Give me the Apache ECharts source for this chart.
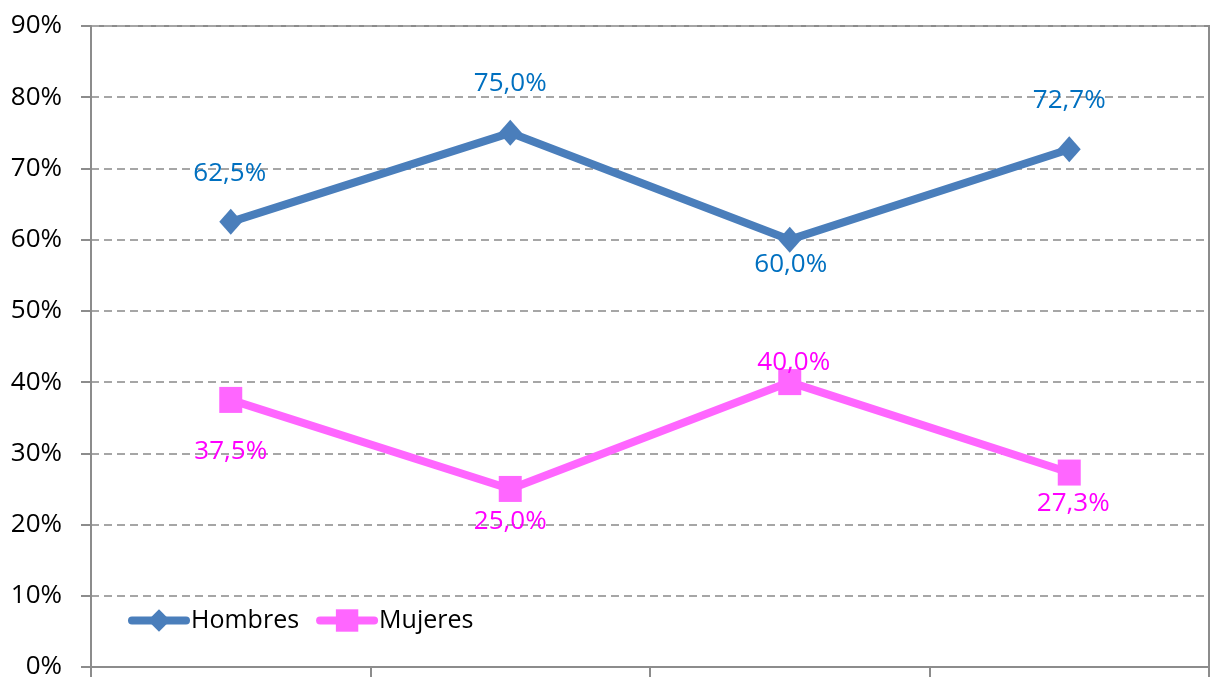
<!DOCTYPE html>
<html>
<head>
<meta charset="utf-8">
<script src="https://cdn.jsdelivr.net/npm/echarts@6/dist/echarts.min.js"></script>
<style>
  html, body { margin: 0; padding: 0; background: #fff; }
  #chart { width: 1213px; height: 680px; }
</style>
</head>
<body>
<div id="chart"></div>
<script>
// Four groups, share of men and women in each
const categories = ['G1', 'G2', 'G3', 'G4'];
const hombres = [62.5, 75.0, 60.0, 72.7];
const mujeres = [37.5, 25.0, 40.0, 27.3];
const seriesNames = ['Hombres', 'Mujeres'];

// label placement (offset from the point) for each value
const hombresLabelOffsets = [[-1, -48], [0, -49], [1, 25], [0, -49]];
const mujeresLabelOffsets = [[0, 52], [0, 33], [4, -20], [4, 31]];

const FONT = "'Open Sans', 'Noto Sans', sans-serif";
const fmt = v => v.toFixed(1).replace('.', ',') + '%';

function withLabels(values, offsets, color) {
  return values.map((v, i) => ({
    value: v,
    label: {
      show: true,
      position: 'inside',
      offset: offsets[i],
      formatter: fmt(v),
      color: color,
      fontSize: 26,
      fontFamily: FONT
    }
  }));
}

const chart = echarts.init(document.getElementById('chart'), null, { renderer: 'canvas' });
chart.setOption({
  animation: false,
  backgroundColor: '#ffffff',
  grid: {
    left: 91, right: 4, top: 26, bottom: 13,
    show: true, borderColor: '#8c8c8c', borderWidth: 2, backgroundColor: 'transparent'
  },
  legend: {
    data: seriesNames,
    left: 128, top: 608,
    padding: 0,
    itemWidth: 54, itemHeight: 28, itemGap: 17,
    lineStyle: { width: 8, cap: 'round' },
    textStyle: { fontSize: 25, fontFamily: FONT, color: '#000' }
  },
  xAxis: {
    type: 'category',
    data: categories,
    boundaryGap: true,
    axisLine: { lineStyle: { color: '#8c8c8c', width: 2 } },
    axisTick: { show: true, length: 10, lineStyle: { color: '#8c8c8c', width: 2 } },
    axisLabel: { show: false },
    splitLine: { show: false }
  },
  yAxis: {
    type: 'value',
    min: 0, max: 90, interval: 10,
    axisLine: { show: true, lineStyle: { color: '#8c8c8c', width: 2 } },
    axisTick: { show: true, length: 10, lineStyle: { color: '#8c8c8c', width: 2 } },
    axisLabel: {
      formatter: v => v + '%',
      fontSize: 26, fontFamily: FONT, color: '#000', margin: 29
    },
    splitLine: { lineStyle: { color: '#a6a6a6', width: 2, type: [8, 5] } }
  },
  series: [
    {
      name: seriesNames[0],
      type: 'line',
      data: withLabels(hombres, hombresLabelOffsets, '#0070C0'),
      symbol: 'diamond',
      symbolSize: [23, 26],
      lineStyle: { color: '#4A7EBB', width: 8 },
      itemStyle: { color: '#4A7EBB' },
      z: 3
    },
    {
      name: seriesNames[1],
      type: 'line',
      data: withLabels(mujeres, mujeresLabelOffsets, '#FF00FF'),
      symbol: 'rect',
      symbolSize: [23, 26],
      lineStyle: { color: '#FF66FF', width: 8 },
      itemStyle: { color: '#FF66FF' },
      z: 3
    }
  ]
});
</script>
</body>
</html>
